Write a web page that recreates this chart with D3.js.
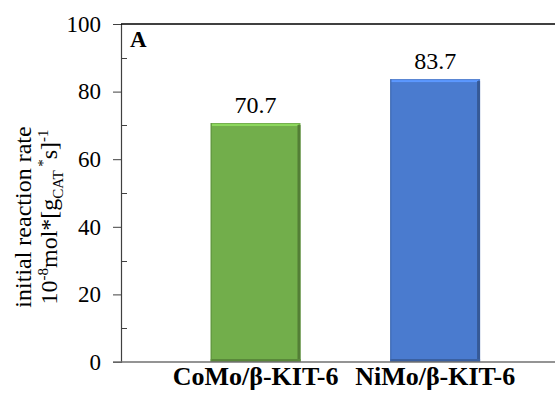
<!DOCTYPE html>
<html>
<head>
<meta charset="utf-8">
<script src="https://cdn.jsdelivr.net/npm/d3@7"></script>
<style>
  body { margin: 0; background: #fff; }
  svg text { font-family: 'Liberation Serif', 'Times New Roman', serif; }
</style>
</head>
<body>
<div class="chart"></div>
<script>
// data
var categories = ["CoMo/\u03B2-KIT-6", "NiMo/\u03B2-KIT-6"];
var rates = [70.7, 83.7];
var barColors = ["#72AE4B", "#4A7BCF"];
var yTicks = [0, 20, 40, 60, 80, 100];
var yMinorTicks = [10, 30, 50, 70, 90];

var width = 555, height = 397;
var plotLeft = 121, plotRight = 555, plotTop = 24, plotBottom = 362;
var serif = "'Liberation Serif', 'Times New Roman', serif";

var svg = d3.select(".chart")
  .append("svg")
  .attr("width", width)
  .attr("height", height);

var y = d3.scaleLinear().domain([0, 100]).range([plotBottom, plotTop]);
var x = d3.scaleBand()
  .domain(categories)
  .range([plotLeft, 552])
  .paddingInner(0.5)
  .paddingOuter(0.45)
  .align(0.555);

// bars with a small bevel
var bars = svg.selectAll("g.bar")
  .data(categories)
  .enter()
  .append("g")
  .attr("class", "bar");

bars.append("rect")
  .attr("x", function (d) { return x(d); })
  .attr("y", function (d, i) { return y(rates[i]); })
  .attr("width", x.bandwidth())
  .attr("height", function (d, i) { return y(0) - y(rates[i]); })
  .style("fill", function (d, i) { return barColors[i]; });

// light top edge
bars.append("rect")
  .attr("x", function (d) { return x(d) + 1; })
  .attr("y", function (d, i) { return y(rates[i]) + 1; })
  .attr("width", x.bandwidth() - 3)
  .attr("height", 2)
  .style("fill", function (d, i) { return d3.color(barColors[i]).brighter(0.6); });

// dark right edge
bars.append("rect")
  .attr("x", function (d) { return x(d) + x.bandwidth() - 3; })
  .attr("y", function (d, i) { return y(rates[i]) + 2; })
  .attr("width", 3)
  .attr("height", function (d, i) { return y(0) - y(rates[i]) - 2; })
  .style("fill", function (d, i) { return d3.color(barColors[i]).darker(0.9); });

// dark bottom edge
bars.append("rect")
  .attr("x", function (d) { return x(d); })
  .attr("y", y(0) - 3)
  .attr("width", x.bandwidth())
  .attr("height", 3)
  .style("fill", function (d, i) { return d3.color(barColors[i]).darker(0.7); });

// left thin dark edge
bars.append("rect")
  .attr("x", function (d) { return x(d); })
  .attr("y", function (d, i) { return y(rates[i]); })
  .attr("width", 1)
  .attr("height", function (d, i) { return y(0) - y(rates[i]); })
  .style("fill", function (d, i) { return d3.color(barColors[i]).darker(0.5); });

// value labels
svg.selectAll("text.val")
  .data(categories)
  .enter()
  .append("text")
  .attr("class", "val")
  .attr("x", function (d) { return x(d) + x.bandwidth() / 2; })
  .attr("y", function (d, i) { return y(rates[i]) - 10; })
  .attr("text-anchor", "middle")
  .style("font-size", "24px")
  .style("font-family", serif)
  .style("fill", "#000")
  .text(function (d, i) { return rates[i].toFixed(1); });

// y axis
var yAxis = d3.axisLeft(y).tickValues(yTicks).tickSize(8).tickPadding(12);
var gy = svg.append("g")
  .attr("transform", "translate(" + plotLeft + ",0)")
  .call(yAxis);
gy.attr("font-family", null);
gy.select(".domain").attr("stroke", "#404040").attr("stroke-width", 1.2);
gy.selectAll(".tick line").attr("stroke", "#404040");
gy.selectAll(".tick text")
  .style("font-size", "23px")
  .style("font-family", serif)
  .attr("fill", "#000");

// minor ticks inside
svg.selectAll("line.minor")
  .data(yMinorTicks)
  .enter()
  .append("line")
  .attr("class", "minor")
  .attr("x1", plotLeft)
  .attr("x2", plotLeft + 6)
  .attr("y1", function (d) { return Math.round(y(d)) + 0.5; })
  .attr("y2", function (d) { return Math.round(y(d)) + 0.5; })
  .style("stroke", "#404040");

// top border
svg.append("line")
  .attr("x1", plotLeft)
  .attr("x2", plotRight)
  .attr("y1", y(100))
  .attr("y2", y(100))
  .style("stroke", "#000")
  .style("stroke-width", 1.5);

// x axis
var xAxis = d3.axisBottom(x).tickSize(0).tickPadding(5);
var gx = svg.append("g")
  .attr("transform", "translate(0," + plotBottom + ")")
  .call(xAxis);
gx.attr("font-family", null);
gx.select(".domain").remove();
svg.append("line")
  .attr("x1", plotLeft - 8)
  .attr("x2", plotRight)
  .attr("y1", plotBottom)
  .attr("y2", plotBottom)
  .style("stroke", "#707070")
  .style("stroke-width", 1.5);
gx.selectAll(".tick text")
  .style("font-size", "26px")
  .style("font-weight", "bold")
  .style("font-family", serif)
  .attr("fill", "#000");

// panel letter
svg.append("text")
  .attr("x", 130)
  .attr("y", 47)
  .style("font-size", "23px")
  .style("font-weight", "bold")
  .style("font-family", serif)
  .text("A");

// y axis title
var title = svg.append("text")
  .attr("transform", "translate(0,217) rotate(-90)")
  .attr("text-anchor", "middle")
  .style("font-size", "24px")
  .style("font-family", serif)
  .style("fill", "#000");
title.append("tspan")
  .attr("x", 0)
  .attr("y", 31)
  .text("initial reaction rate");
var l2 = title.append("tspan").attr("x", 0).attr("y", 57);
l2.text("10");
title.append("tspan").attr("dy", -9).style("font-size", "15px").text("-8");
title.append("tspan").attr("dy", 9).text("mol*[g");
title.append("tspan").attr("dy", 6).style("font-size", "15px").text("CAT");
title.append("tspan").attr("dy", -15).style("font-size", "15px").text(" *");
title.append("tspan").attr("dy", 9).text("s]");
title.append("tspan").attr("dy", -9).style("font-size", "15px").text("-1");
</script>
</body>
</html>
